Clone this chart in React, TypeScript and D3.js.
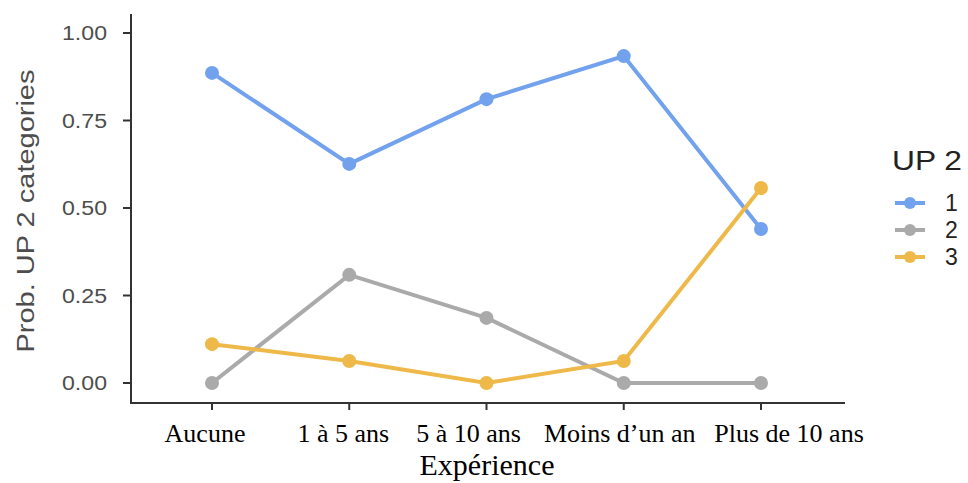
import React from "react";
import * as d3 from "d3";

const categories = ["Aucune", "1 à 5 ans", "5 à 10 ans", "Moins d\u2019un an", "Plus de 10 ans"];
const seriesNames = ["1", "2", "3"];
const series1 = [0.886, 0.626, 0.811, 0.934, 0.44];
const series2 = [0.0, 0.309, 0.186, 0.0, 0.0];
const series3 = [0.111, 0.063, 0.0, 0.063, 0.557];
const yTicks = [0, 0.25, 0.5, 0.75, 1.0];
const colors = ["#72a2ee", "#aaaaaa", "#efb94a"];
// label horizontal offsets relative to each tick (labels were placed off-centre)
const labelShift = [-7, -6, -18, -4, 28];

export default function App() {
  const W = 968, H = 483;
  const left = 131, right = 845, top = 14, bottom = 403;
  const x = d3.scalePoint<string>().domain(categories).range([212, 761]);
  const y = d3.scaleLinear().domain([0, 1]).range([383, 33]);
  const data = [series1, series2, series3];
  const line = d3.line<number>().x((_, i) => x(categories[i])!).y((d) => y(d));
  const sans = "Arial, 'Liberation Sans', sans-serif";
  const serif = "'Times New Roman', 'Liberation Serif', serif";
  return (
    <svg width={W} height={H} style={{ position: "absolute", left: 0, top: 0, background: "#fff" }}>
      <rect width={W} height={H} fill="#fff" />
      <line x1={left} x2={left} y1={top} y2={bottom + 1} stroke="#333" strokeWidth={2} />
      <line x1={left - 1} x2={right} y1={bottom} y2={bottom} stroke="#333" strokeWidth={2} />
      {yTicks.map((t) => (
        <g key={t}>
          <line x1={left - 8} x2={left} y1={y(t)} y2={y(t)} stroke="#333" strokeWidth={2} />
          <text x={107} y={y(t)} dy="0.36em" textAnchor="end" fontFamily={sans} fontSize={19.5}
            fill="#4d4d4d" textLength={45} lengthAdjust="spacingAndGlyphs">
            {t.toFixed(2)}
          </text>
        </g>
      ))}
      {categories.map((c, i) => (
        <g key={c}>
          <line x1={x(c)} x2={x(c)} y1={bottom} y2={bottom + 7} stroke="#333" strokeWidth={2} />
          <text x={x(c)! + labelShift[i]} y={442} textAnchor="middle" fontFamily={serif} fontSize={26} fill="#000">
            {c}
          </text>
        </g>
      ))}
      <text x={487} y={475} textAnchor="middle" fontFamily={serif} fontSize={30} fill="#000">Expérience</text>
      <text transform={`translate(34,211) rotate(-90)`} textAnchor="middle" fontFamily={sans} fontSize={23.5}
        fill="#4d4d4d" textLength={283} lengthAdjust="spacingAndGlyphs">
        Prob. UP 2 categories
      </text>
      {data.map((s, k) => (
        <g key={k}>
          <path d={line(s)!} fill="none" stroke={colors[k]} strokeWidth={4} />
          {s.map((v, i) => (
            <circle key={i} cx={x(categories[i])} cy={y(v)} r={7} fill={colors[k]} />
          ))}
        </g>
      ))}
      <text x={892} y={170} fontFamily={sans} fontSize={27} fill="#222" textLength={70} lengthAdjust="spacingAndGlyphs">UP 2</text>
      {seriesNames.map((n, k) => {
        const ly = 203 + k * 27;
        return (
          <g key={n}>
            <line x1={895} x2={925} y1={ly} y2={ly} stroke={colors[k]} strokeWidth={4} />
            <circle cx={910} cy={ly} r={6} fill={colors[k]} />
            <text x={945} y={ly} dy="0.36em" fontFamily={sans} fontSize={23} fill="#222">{n}</text>
          </g>
        );
      })}
    </svg>
  );
}
